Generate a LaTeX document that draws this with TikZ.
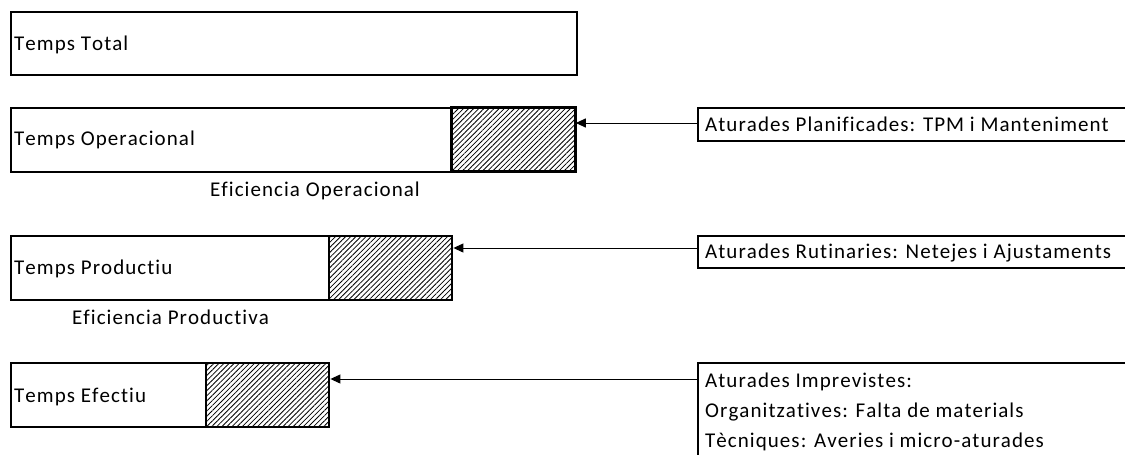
\documentclass[tikz,border=0pt]{standalone}
\usepackage{fontspec}
\setmainfont[LetterSpace=5,Kerning=Off,Ligatures=NoCommon]{Carlito}
\usetikzlibrary{patterns.meta,arrows.meta}
\begin{document}
\begin{tikzpicture}[x=1pt,y=-1pt,
 box/.style={draw,line width=2.4pt,inner sep=0pt,anchor=north west},
 hatch/.style={box,pattern={Lines[angle=45,distance=3.6pt,line width=0.8pt]}},
 txt/.style={anchor=base west,inner sep=0pt,font=\fontsize{21}{25}\selectfont},
 arr/.style={line width=1pt,-{Triangle[length=10pt,width=9pt]}}]
\useasboundingbox (0,0) rectangle (1125,455);
\clip (0,0) rectangle (1125,455);
\fill[white] (0,0) rectangle (1125,455);
% left bars
\node[box,minimum width=566pt,minimum height=63pt] (total) at (10,11) {};
\node[txt] (ttotal) at (14,50) {Temps Total};
\node[box,minimum width=441pt,minimum height=64pt] (oper) at (10,107) {};
\node[hatch,minimum width=124pt,minimum height=64pt] (operH) at (451,107) {};
\node[txt] (toper) at (14,145) {Temps Operacional};
\node[txt] (effop) at (210,196) {Eficiencia Operacional};
\node[box,minimum width=318pt,minimum height=64pt] (prod) at (10,235) {};
\node[hatch,minimum width=123pt,minimum height=64pt] (prodH) at (328,235) {};
\node[txt] (tprod) at (14,274) {Temps Productiu};
\node[txt] (effpr) at (72,324) {Eficiencia Productiva};
\node[box,minimum width=195pt,minimum height=64pt] (efec) at (10,362) {};
\node[hatch,minimum width=123pt,minimum height=64pt] (efecH) at (205,362) {};
\node[txt] (tefec) at (14,402) {Temps Efectiu};
% right boxes
\node[box,minimum width=440pt,minimum height=33pt] (planif) at (697,107) {};
\node[txt] (tplanif) at (705,131) {Aturades Planificades: TPM i Manteniment};
\node[box,minimum width=440pt,minimum height=32pt] (rutin) at (697,235) {};
\node[txt] (trutin) at (705,258) {Aturades Rutinaries: Netejes i Ajustaments};
\node[box,minimum width=440pt,minimum height=110pt] (impr) at (697,362) {};
\node[txt] (timpr1) at (705,387) {Aturades Imprevistes:};
\node[txt] (timpr2) at (705,417) {Organitzatives: Falta de materials};
\node[txt] (timpr3) at (705,447) {Tècniques: Averies i micro-aturades};
% connectors
\coordinate (aA) at (697,123);
\coordinate (aB) at (697,248);
\coordinate (aC) at (697,379);
\draw[arr] (aA) -- (aA -| operH.east);
\draw[arr] (aB) -- (aB -| prodH.east);
\draw[arr] (aC) -- (aC -| efecH.east);
\end{tikzpicture}
\end{document}
